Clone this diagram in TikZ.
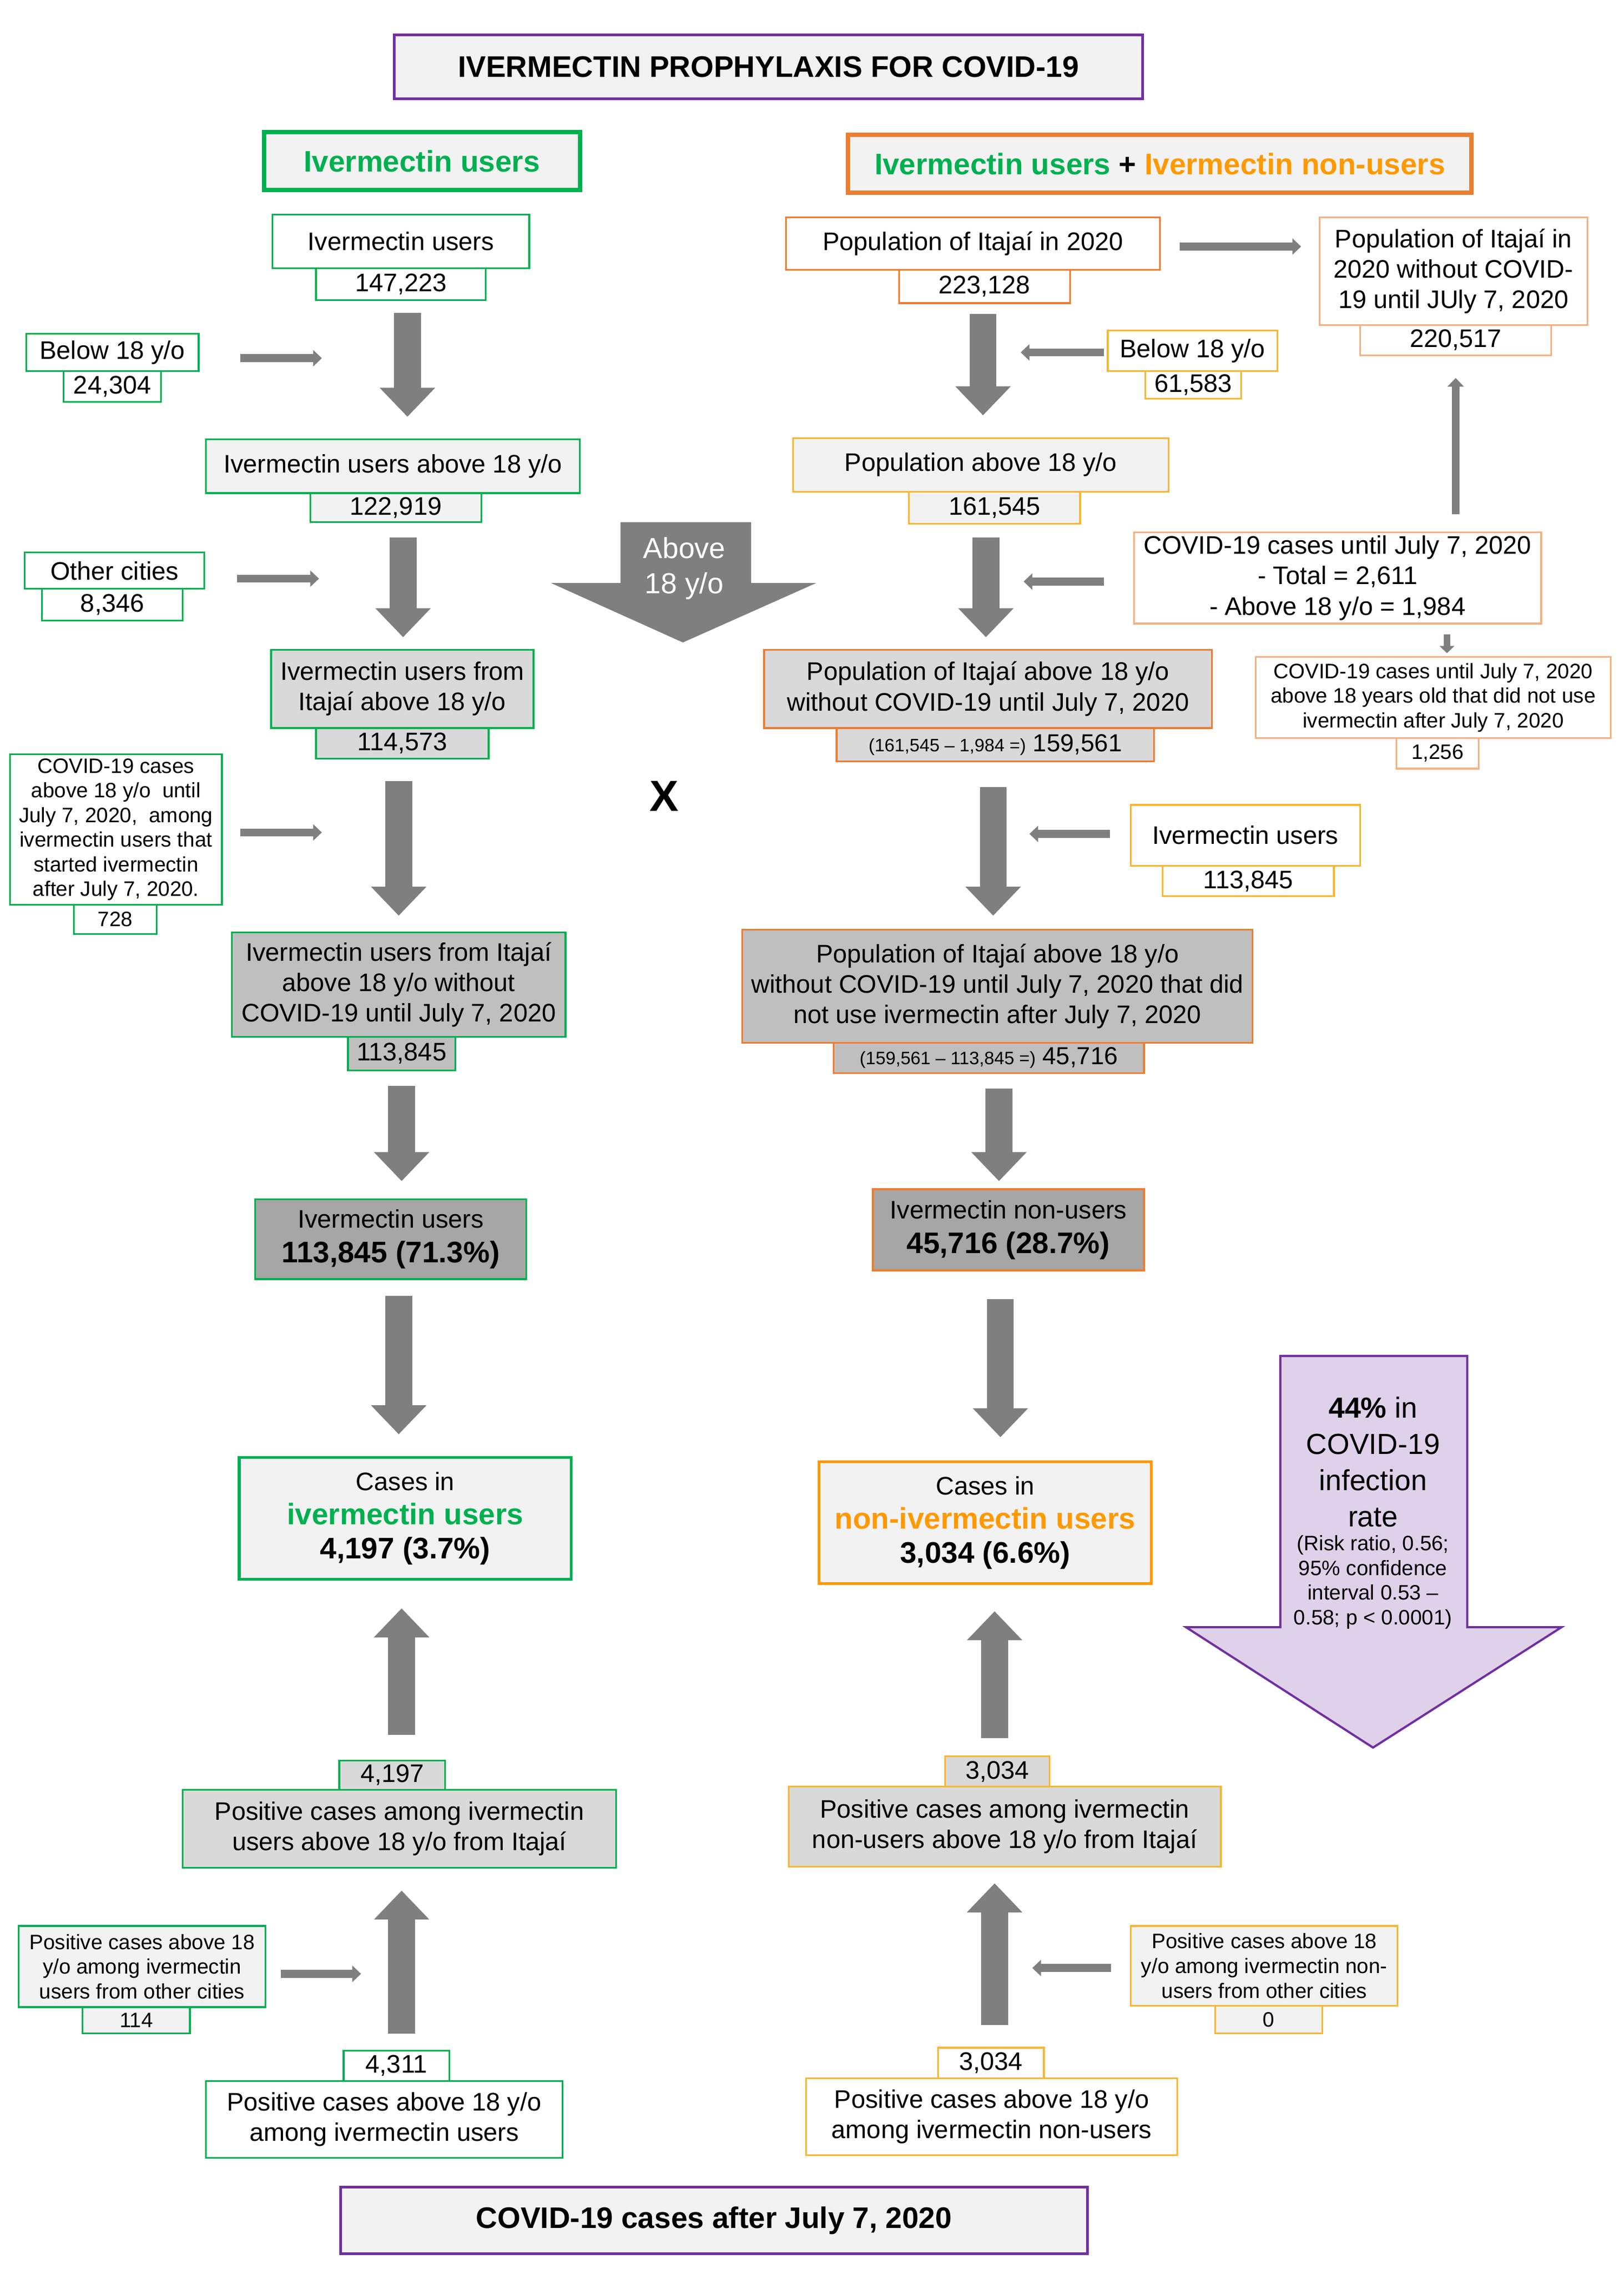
\documentclass[tikz,border=0pt]{standalone}
\usepackage{fontspec}
\setmainfont{Liberation Sans}
\usetikzlibrary{arrows.meta,calc}
\definecolor{cG}{HTML}{00B050}
\definecolor{cP}{HTML}{7030A0}
\definecolor{cO}{HTML}{ED7D31}
\definecolor{cPe}{HTML}{F4B183}
\definecolor{cGd}{HTML}{F7B733}
\definecolor{cOt}{HTML}{FF9900}
\definecolor{cF2}{HTML}{F2F2F2}
\definecolor{cD9}{HTML}{D9D9D9}
\definecolor{cBF}{HTML}{BFBFBF}
\definecolor{cA6}{HTML}{A6A6A6}
\definecolor{cAr}{HTML}{7F7F7F}
\definecolor{cLav}{HTML}{E0D1EA}
\newcommand{\fmain}{\fontsize{17.5}{21}\selectfont}
\newcommand{\fsmall}{\fontsize{14.4}{17}\selectfont}
\newcommand{\fbig}{\fontsize{20.5}{24.5}\selectfont}
\newcommand{\ftiny}{\fontsize{12.4}{14}\selectfont}
\begin{document}
\begin{tikzpicture}[x=1pt,y=-1pt,
  bx/.style={draw, rectangle, inner sep=0pt, align=center, line width=1.2pt, font=\fmain, fill=white},
  sbx/.style={bx, font=\fsmall},
  bigarr/.style={draw=cAr, line width=18.5pt, -{Triangle[width=37pt,length=20pt]}},
  smallarr/.style={draw=cAr, line width=5.5pt, -{Triangle[width=11pt,length=6pt]}},
  tinyarr/.style={draw=cAr, line width=4.5pt, -{Triangle[width=10pt,length=5pt]}}
]
\useasboundingbox (0,0) rectangle (1120,1568);
\fill[white] (0,0) rectangle (1120,1568);

% title and headers
\node[bx, fill=cF2, draw=cP, line width=2pt, minimum width=516pt, minimum height=44pt, font=\fbig\bfseries] (title) at (530,46) {IVERMECTIN PROPHYLAXIS FOR COVID-19};
\node[bx, fill=cF2, draw=cG, line width=3pt, minimum width=218pt, minimum height=40pt, font=\fbig\bfseries, text=cG] (hdrL) at (291,111) {Ivermectin users};
\node[bx, fill=cF2, draw=cO, line width=3pt, minimum width=430pt, minimum height=40pt, font=\fbig\bfseries] (hdrR) at (800,113) {{\color{cG}Ivermectin users} + {\color{cOt}Ivermectin non-users}};

% left column
\node[bx, draw=cG, minimum width=177pt, minimum height=37pt] (L1) at (276.5,166.5) {Ivermectin users};
\node[bx, draw=cG, minimum width=117pt, minimum height=22pt] (L1n) at (276.5,196) {147,223};
\node[bx, draw=cG, minimum width=119pt, minimum height=26pt] (Lb18) at (77.5,243) {Below 18 y/o};
\node[bx, draw=cG, minimum width=67pt, minimum height=21pt] (Lb18n) at (77.5,266.5) {24,304};
\node[bx, draw=cG, fill=cF2, minimum width=258pt, minimum height=37pt] (L2) at (271,321.5) {Ivermectin users above 18 y/o};
\node[bx, draw=cG, fill=cF2, minimum width=118pt, minimum height=20pt] (L2n) at (273,350) {122,919};
\node[bx, draw=cG, minimum width=124pt, minimum height=25pt] (Loc) at (79,393.5) {Other cities};
\node[bx, draw=cG, minimum width=97pt, minimum height=22pt] (Locn) at (77.5,417) {8,346};
\node[bx, draw=cG, fill=cD9, minimum width=181pt, minimum height=54pt] (L3) at (277.5,475) {Ivermectin users from\\Itajaí above 18 y/o};
\node[bx, draw=cG, fill=cD9, minimum width=119pt, minimum height=21pt] (L3n) at (277.5,512.5) {114,573};
\node[sbx, draw=cG, minimum width=146pt, minimum height=104pt] (Lcov) at (80,572) {COVID-19 cases\\above 18 y/o\ \ until\\July 7, 2020,\ \ among\\ivermectin users that\\started ivermectin\\after July 7, 2020.};
\node[sbx, draw=cG, minimum width=57pt, minimum height=20pt] (Lcovn) at (79.5,634) {728};
\node[bx, draw=cG, fill=cBF, minimum width=230pt, minimum height=72pt] (L4) at (275,679) {Ivermectin users from Itajaí\\above 18 y/o without\\COVID-19 until July 7, 2020};
\node[bx, draw=cG, fill=cBF, minimum width=74pt, minimum height=23pt] (L4n) at (277,726.5) {113,845};
\node[bx, draw=cG, fill=cA6, minimum width=187pt, minimum height=55pt] (L5) at (269.5,854.5) {Ivermectin users\\[3pt]{\fbig\bfseries 113,845 (71.3\%)}};
\node[bx, draw=cG, fill=cF2, line width=2pt, minimum width=229pt, minimum height=84pt] (L6) at (279.5,1047) {Cases in\\[2.5pt]{\fbig\bfseries\color{cG}ivermectin users}\\[2.5pt]{\fbig\bfseries 4,197 (3.7\%)}};
\node[bx, draw=cG, fill=cD9, minimum width=73pt, minimum height=20pt] (L7n) at (270.5,1224) {4,197};
\node[bx, draw=cG, fill=cD9, minimum width=299pt, minimum height=54pt] (L7) at (275.5,1261) {Positive cases among ivermectin\\users above 18 y/o from Itajaí};
\node[sbx, draw=cG, fill=cF2, minimum width=170pt, minimum height=56pt] (Loth) at (98,1356) {Positive cases above 18\\y/o among ivermectin\\users from other cities};
\node[sbx, draw=cG, fill=cF2, minimum width=74pt, minimum height=18pt] (Lothn) at (94,1393) {114};
\node[bx, draw=cG, minimum width=73pt, minimum height=21pt] (L8n) at (273.5,1424.5) {4,311};
\node[bx, draw=cG, minimum width=246pt, minimum height=53pt] (L8) at (265,1461.5) {Positive cases above 18 y/o\\among ivermectin users};

% right column
\node[bx, draw=cO, minimum width=258pt, minimum height=36pt] (R1) at (671,168) {Population of Itajaí in 2020};
\node[bx, draw=cO, minimum width=118pt, minimum height=23pt] (R1n) at (679,197.5) {223,128};
\node[bx, draw=cPe, minimum width=185pt, minimum height=74pt] (Rwo) at (1002.5,187) {Population of Itajaí in\\2020 without COVID-\\19 until JUly 7, 2020};
\node[bx, draw=cPe, minimum width=132pt, minimum height=21pt] (Rwon) at (1004,234.5) {220,517};
\node[bx, draw=cGd, minimum width=117pt, minimum height=28pt] (Rb18) at (822.5,242) {Below 18 y/o};
\node[bx, draw=cGd, minimum width=66pt, minimum height=19pt] (Rb18n) at (823,265.5) {61,583};
\node[bx, draw=cGd, fill=cF2, minimum width=259pt, minimum height=37pt] (R2) at (676.5,320.5) {Population above 18 y/o};
\node[bx, draw=cGd, fill=cF2, minimum width=118pt, minimum height=22pt] (R2n) at (686,350) {161,545};
\node[bx, draw=cPe, minimum width=281pt, minimum height=63pt] (Rcov) at (922.5,398.5) {COVID-19 cases until July 7, 2020\\- Total = 2,611\\- Above 18 y/o = 1,984};
\node[sbx, draw=cPe, minimum width=245pt, minimum height=56pt] (Rcov2) at (988.5,481) {COVID-19 cases until July 7, 2020\\above 18 years old that did not use\\ivermectin after July 7, 2020};
\node[sbx, draw=cPe, minimum width=57pt, minimum height=21pt] (Rcov2n) at (991.5,519.5) {1,256};
\node[bx, draw=cO, fill=cD9, minimum width=309pt, minimum height=54pt] (R3) at (681.5,475) {Population of Itajaí above 18 y/o\\without COVID-19 until July 7, 2020};
\node[bx, draw=cO, fill=cD9, minimum width=219pt, minimum height=23pt, font=\fontsize{17}{20}\selectfont] (R3n) at (686.5,513.5) {{\ftiny (161,545 – 1,984 =)} 159,561};
\node[bx, draw=cGd, minimum width=158pt, minimum height=42pt] (Riu) at (859,576) {Ivermectin users};
\node[bx, draw=cGd, minimum width=118pt, minimum height=21pt] (Riun) at (861,607.5) {113,845};
\node[bx, draw=cO, fill=cBF, minimum width=352pt, minimum height=78pt] (R4) at (688,680) {Population of Itajaí above 18 y/o\\without COVID-19 until July 7, 2020 that did\\not use ivermectin after July 7, 2020};
\node[bx, draw=cO, fill=cBF, minimum width=214pt, minimum height=21pt, font=\fontsize{17}{20}\selectfont] (R4n) at (682,729.5) {{\ftiny (159,561 – 113,845 =)} 45,716};
\node[bx, draw=cO, fill=cA6, minimum width=187pt, minimum height=56pt] (R5) at (695.5,848) {Ivermectin non-users\\[3pt]{\fbig\bfseries 45,716 (28.7\%)}};
\node[bx, draw=cOt, fill=cF2, line width=2pt, minimum width=229pt, minimum height=84pt] (R6) at (679.5,1050) {Cases in\\[2.5pt]{\fbig\bfseries\color{cOt}non-ivermectin users}\\[2.5pt]{\fbig\bfseries 3,034 (6.6\%)}};
\node[bx, draw=cGd, fill=cD9, minimum width=72pt, minimum height=21pt] (R7n) at (688,1221.5) {3,034};
\node[bx, draw=cGd, fill=cD9, minimum width=298pt, minimum height=55pt] (R7) at (693,1259.5) {Positive cases among ivermectin\\non-users above 18 y/o from Itajaí};
\node[sbx, draw=cGd, fill=cF2, minimum width=184pt, minimum height=55pt] (Roth) at (872,1355.5) {Positive cases above 18\\y/o among ivermectin non-\\users from other cities};
\node[sbx, draw=cGd, fill=cF2, minimum width=74pt, minimum height=19pt] (Rothn) at (875,1392.5) {0};
\node[bx, draw=cGd, minimum width=73pt, minimum height=21pt] (R8n) at (683.5,1422.5) {3,034};
\node[bx, draw=cGd, minimum width=256pt, minimum height=53pt] (R8) at (684,1459.5) {Positive cases above 18 y/o\\among ivermectin non-users};

% bottom
\node[bx, fill=cF2, draw=cP, line width=2pt, minimum width=515pt, minimum height=46pt, font=\fbig\bfseries] (bottom) at (492.5,1531) {COVID-19 cases after July 7, 2020};

% X
\node[font=\fontsize{30}{30}\selectfont\bfseries] (xmark) at (458,549) {X};

% Above 18 y/o arrow
\fill[cAr] (428,360) -- (518,360) -- (518,402) -- (563,402) -- (471,443) -- (380,402) -- (428,402) -- cycle;
\node[align=center, text=white, font=\fontsize{20}{24}\selectfont, inner sep=0pt] (abovetxt) at (472,392) {Above\\18 y/o};

% purple arrow
\filldraw[fill=cLav, draw=cP, line width=1.5pt] (883,935) -- (1012,935) -- (1012,1122) -- (1077,1122) -- (947,1205) -- (818,1122) -- (883,1122) -- cycle;
\node[align=center, font=\fontsize{20}{25}\selectfont, inner sep=0pt] (ptxt) at (947,1008) {{\bfseries 44\%} in\\COVID-19\\infection\\rate};
\node[align=center, font=\fsmall, inner sep=0pt] (ptxt2) at (947,1091) {(Risk ratio, 0.56;\\95\% confidence\\interval 0.53 –\\0.58; p < 0.0001)};

% big vertical arrows, left
\draw[bigarr] ($(L1n.south)+(4.5,8)$) -- ($(L1n.south |- L2.north)+(4.5,-15)$);
\draw[bigarr] ($(L2n.south)+(5,10)$) -- ($(L2n.south |- L3.north)+(5,-8)$);
\draw[bigarr] ($(L3n.south)+(-2.5,15)$) -- ($(L3n.south |- L4.north)+(-2.5,-11)$);
\draw[bigarr] ($(L4n.south)+(0,10)$) -- ($(L4n.south |- L5.north)+(0,-12)$);
\draw[bigarr] ($(L5.south)+(5.5,11)$) -- ($(L5.south |- L6.north)+(5.5,-15)$);
\draw[bigarr] ($(L7n.north)+(6.5,-17)$) -- ($(L7n.north |- L6.south)+(6.5,19)$);
\draw[bigarr] ($(L8n.north)+(3.5,-11)$) -- ($(L8n.north |- L7.south)+(3.5,15)$);
% big vertical arrows, right
\draw[bigarr] ($(R1n.south)+(-1,7)$) -- ($(R1n.south |- R2.north)+(-1,-15)$);
\draw[bigarr] ($(R2n.south)+(-6,9)$) -- ($(R2n.south |- R3.north)+(-6,-8)$);
\draw[bigarr] ($(R3n.south)+(-1.5,17)$) -- ($(R3n.south |- R4.north)+(-1.5,-9)$);
\draw[bigarr] ($(R4n.south)+(7,10)$) -- ($(R4n.south |- R5.north)+(7,-5)$);
\draw[bigarr] ($(R5.south)+(-5.5,19)$) -- ($(R5.south |- R6.north)+(-5.5,-16)$);
\draw[bigarr] ($(R7n.north)+(-2,-12)$) -- ($(R7n.north |- R6.south)+(-2,18)$);
\draw[bigarr] ($(R8n.north)+(2.5,-15)$) -- ($(R8n.north |- R7.south)+(2.5,11)$);

% small arrows
\coordinate (a1e) at (222,247);
\coordinate (a2e) at (220,399);
\coordinate (a3e) at (222,574);
\coordinate (a4e) at (249,1361);
\coordinate (b2e) at (704,243);
\coordinate (b3e) at (706,401);
\coordinate (b6e) at (710,575);
\coordinate (b7e) at (712,1357);
\draw[smallarr] ($(Lb18.east)+(28,4)$) -- (a1e);
\draw[smallarr] ($(Loc.east)+(22,5.5)$) -- (a2e);
\draw[smallarr] ($(Lcov.east)+(12,2)$) -- (a3e);
\draw[smallarr] ($(Loth.east)+(10,5)$) -- (a4e);
\draw[smallarr] ($(R1.east)+(13,2)$) -- ($(Rwo.west |- R1.east)+(-12,2)$);
\draw[smallarr] ($(Rb18.west)+(-2,1)$) -- (b2e);
\draw[smallarr] ($(Rcov.west)+(-20,2.5)$) -- (b3e);
\draw[smallarr] ($(Rcov.north -| Rwon.south)+(0,-12)$) -- ($(Rwon.south)+(0,15)$);
\draw[tinyarr] ($(Rcov.south)+(75.5,7)$) -- ($(Rcov.south |- Rcov2.north)+(75.5,-2)$);
\draw[smallarr] ($(Riu.west)+(-14,-1)$) -- (b6e);
\draw[smallarr] ($(Roth.west)+(-13,1.5)$) -- (b7e);
\end{tikzpicture}
\end{document}
